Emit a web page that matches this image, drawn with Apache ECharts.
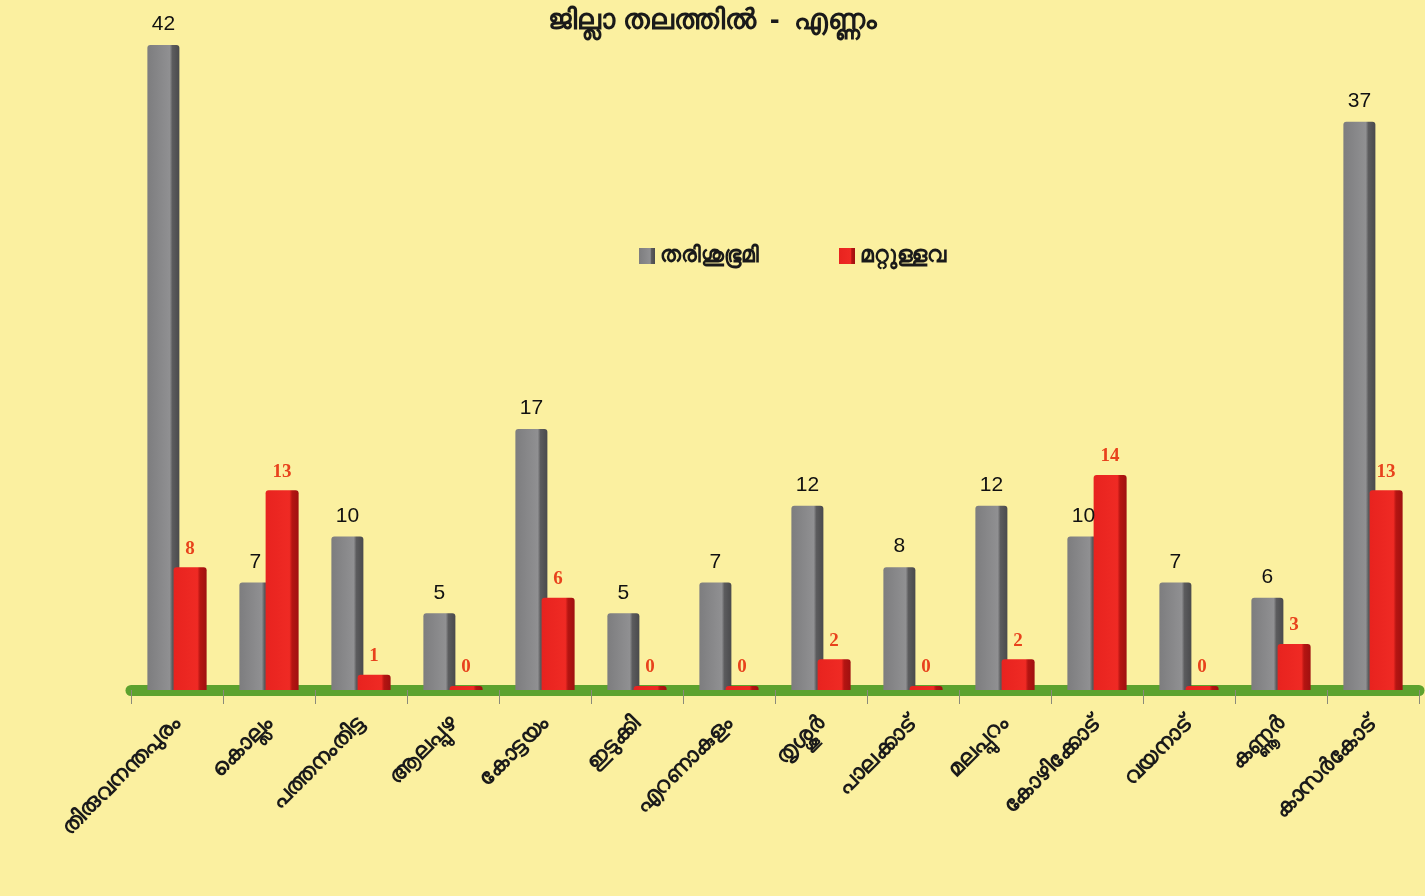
<!DOCTYPE html>
<html>
<head>
<meta charset="utf-8">
<script src="https://cdn.jsdelivr.net/npm/echarts@6/dist/echarts.min.js"></script>
<style>
  html, body { margin: 0; padding: 0; background: #fbf0a0; }
  #chart { width: 1425px; height: 896px; }
</style>
</head>
<body>
<div id="chart"></div>
<script>
// districts
var districts = ['തിരുവനന്തപുരം', 'കൊല്ലം', 'പത്തനംതിട്ട', 'ആലപ്പുഴ', 'കോട്ടയം', 'ഇടുക്കി', 'എറണാകുളം',
  'തൃശ്ശൂർ', 'പാലക്കാട്', 'മലപ്പുറം', 'കോഴിക്കോട്', 'വയനാട്', 'കണ്ണൂർ', 'കാസർകോട്']
var fallowLand = [42, 7, 10, 5, 17, 5, 7, 12, 8, 12, 10, 7, 6, 37]
var others = [8, 13, 1, 0, 6, 0, 0, 2, 0, 2, 14, 0, 3, 13]
var seriesNames = ['തരിശുഭൂമി', 'മറ്റുള്ളവ']

var chart = echarts.init(document.getElementById('chart'))

var grayFill = new echarts.graphic.LinearGradient(0, 0, 1, 0, [
  { offset: 0, color: '#7d7d7f' },
  { offset: 0.7, color: '#909092' },
  { offset: 0.78, color: '#5c5c5e' },
  { offset: 1, color: '#4a4a4c' }
])
var redFill = new echarts.graphic.LinearGradient(0, 0, 1, 0, [
  { offset: 0, color: '#e8231f' },
  { offset: 0.72, color: '#ef2a24' },
  { offset: 0.8, color: '#b51512' },
  { offset: 1, color: '#a01010' }
])

var option = {
  backgroundColor: '#fbf0a0',
  title: {
    text: 'ജില്ലാ തലത്തിൽ  -  എണ്ണം',
    left: 'center',
    top: 2,
    textStyle: { fontSize: 28, fontWeight: 'bold', color: '#1a1a1a', fontFamily: 'Noto Sans' }
  },
  legend: {
    data: seriesNames,
    left: 634,
    top: 240,
    itemGap: 80,
    itemWidth: 16,
    itemHeight: 16,
    icon: 'rect',
    textStyle: { fontSize: 22, fontWeight: 'bold', color: '#1a1a1a', fontFamily: 'Noto Sans' }
  },
  grid: {
    left: 131,
    right: 6,
    top: 45,
    bottom: 206
  },
  xAxis: {
    type: 'category',
    data: districts,
    axisLine: { lineStyle: { color: '#5da22e', width: 11 } },
    axisTick: { show: true, length: 14, lineStyle: { color: '#8a8a7a', width: 1 } },
    axisLabel: {
      rotate: 45,
      interval: 0,
      margin: 30,
      fontSize: 22,
      fontWeight: 'bold',
      color: '#1a1a1a',
      fontFamily: 'Noto Sans'
    }
  },
  yAxis: {
    type: 'value',
    min: 0,
    max: 42,
    show: false,
    splitLine: { show: false }
  },
  series: [
    {
      name: seriesNames[0],
      type: 'bar',
      data: fallowLand,
      barWidth: 32,
      barGap: '-18%',
      itemStyle: { color: grayFill, borderRadius: [3, 3, 0, 0] },
      label: {
        show: true,
        position: 'top',
        distance: 10,
        fontSize: 21,
        color: '#111',
        fontFamily: 'Liberation Sans Narrow, Liberation Sans, Arial'
      }
    },
    {
      name: seriesNames[1],
      type: 'bar',
      data: others,
      barWidth: 33,
      barMinHeight: 4,
      itemStyle: { color: redFill, borderRadius: [3, 3, 0, 0] },
      label: {
        show: true,
        position: 'top',
        distance: 9,
        fontSize: 19,
        fontWeight: 'bold',
        color: '#e8421c',
        fontFamily: 'Liberation Serif, Times New Roman, serif'
      }
    }
  ]
}

chart.setOption(option)
window.addEventListener('resize', function () { chart.resize() })
</script>
</body>
</html>
